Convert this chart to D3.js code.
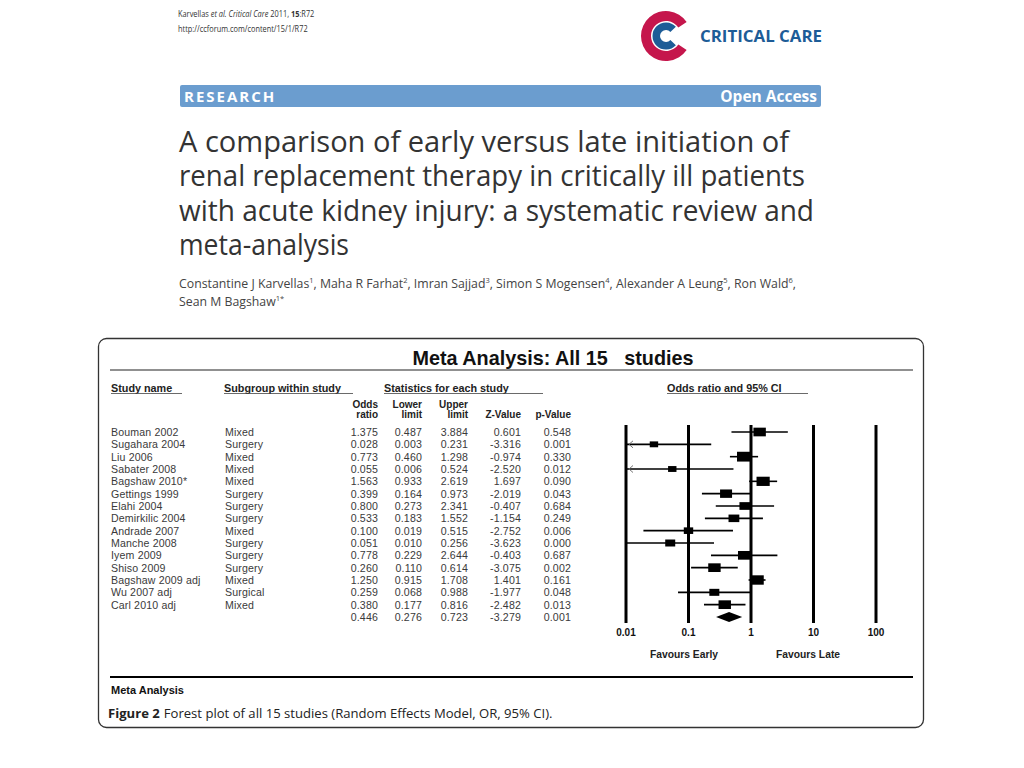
<!DOCTYPE html>
<html><head><meta charset="utf-8">
<script src="https://cdn.jsdelivr.net/npm/d3@7"></script>
<style>
html,body{margin:0;padding:0;background:#fff;}
svg{display:block;}
</style></head>
<body>
<svg id="c" width="1024" height="768"></svg>
<script>
const studies = ["Bouman 2002","Sugahara 2004","Liu 2006","Sabater 2008","Bagshaw 2010*","Gettings 1999","Elahi 2004","Demirkilic 2004","Andrade 2007","Manche 2008","Iyem 2009","Shiso 2009","Bagshaw 2009 adj","Wu 2007 adj","Carl 2010 adj"];
const subgroups = ["Mixed","Surgery","Mixed","Mixed","Mixed","Surgery","Surgery","Surgery","Mixed","Surgery","Surgery","Surgery","Mixed","Surgical","Mixed"];
const oddsRatio = [1.375,0.028,0.773,0.055,1.563,0.399,0.800,0.533,0.100,0.051,0.778,0.260,1.250,0.259,0.380];
const lowerLimit = [0.487,0.003,0.460,0.006,0.933,0.164,0.273,0.183,0.019,0.010,0.229,0.110,0.915,0.068,0.177];
const upperLimit = [3.884,0.231,1.298,0.524,2.619,0.973,2.341,1.552,0.515,0.256,2.644,0.614,1.708,0.988,0.816];
const zValue = ["0.601","-3.316","-0.974","-2.520","1.697","-2.019","-0.407","-1.154","-2.752","-3.623","-0.403","-3.075","1.401","-1.977","-2.482"];
const pValue = ["0.548","0.001","0.330","0.012","0.090","0.043","0.684","0.249","0.006","0.000","0.687","0.002","0.161","0.048","0.013"];
const weights = [6.2,4.2,7.0,4.2,6.6,6.0,5.5,5.4,4.7,5.0,6.2,6.2,6.7,5.0,6.2];
const summary = {or:0.446, lo:0.276, hi:0.723, z:"-3.279", p:"0.001"};
const tickValues = [0.01,0.1,1,10,100];
const tickLabels = ["0.01","0.1","1","10","100"];

const svg = d3.select("#c");
const TXT = "#3a3a3a";
const SANS = "'Liberation Sans', Arial, sans-serif";
const HEAD = "'Open Sans', 'Noto Sans', sans-serif";

// ---------- page header ----------
const hdr = svg.append("g").attr("font-family", HEAD).attr("fill", "#333")
  .attr("transform","translate(178,0) scale(0.84,1)");
const h1 = hdr.append("text").attr("x",0).attr("y",17).attr("font-size",8.8);
h1.append("tspan").text("Karvellas ");
h1.append("tspan").attr("font-style","italic").text("et al. Critical Care ");
h1.append("tspan").text("2011, ");
h1.append("tspan").attr("font-weight","bold").text("15");
h1.append("tspan").text(":R72");
hdr.append("text").attr("x",0).attr("y",32).attr("font-size",8.8).text("http://ccforum.com/content/15/1/R72");

// logo
const logo = svg.append("g").attr("transform","translate(666,36)");
const H = Math.PI/2;
logo.append("path").attr("d", d3.arc().innerRadius(15).outerRadius(25).startAngle(H+0.6).endAngle(2*Math.PI+H-0.6)()).attr("fill","#c5164c");
logo.append("path").attr("d", d3.arc().innerRadius(6).outerRadius(13.5).startAngle(H+0.75).endAngle(2*Math.PI+H-0.75)()).attr("fill","#1d5c97");
svg.append("text").attr("x",700).attr("y",42).attr("font-family",HEAD).attr("font-weight","bold")
  .attr("font-size",16.5).attr("fill","#1d5c97").attr("textLength",122).attr("lengthAdjust","spacingAndGlyphs").text("CRITICAL CARE");

// research bar
svg.append("rect").attr("x",180).attr("y",85).attr("width",641).attr("height",22).attr("rx",2).attr("fill","#6b9dcf");
svg.append("text").attr("x",184).attr("y",102).attr("font-family",HEAD).attr("font-weight","bold")
  .attr("font-size",15).attr("letter-spacing",2).attr("fill","#fff").text("RESEARCH");
svg.append("text").attr("x",817).attr("y",102).attr("text-anchor","end").attr("font-family",HEAD).attr("font-weight","bold")
  .attr("font-size",15.5).attr("fill","#fff").text("Open Access");

// article title
const titleLines = ["A comparison of early versus late initiation of","renal replacement therapy in critically ill patients","with acute kidney injury: a systematic review and","meta-analysis"];
const titleWidths = [610, 626, 635, 170];
svg.append("g").selectAll("text").data(titleLines).join("text")
  .attr("x",179).attr("y",(d,i)=>152+i*34.3).attr("font-family",HEAD).attr("font-size",28.3).attr("fill","#333")
  .attr("textLength",(d,i)=>titleWidths[i]).attr("lengthAdjust","spacingAndGlyphs").text(d=>d);

// authors
const au = svg.append("text").attr("x",179).attr("y",288).attr("font-family",HEAD).attr("font-size",12.3).attr("fill","#444");
const authors = [["Constantine J Karvellas","1"],["Maha R Farhat","2"],["Imran Sajjad","3"],["Simon S Mogensen","4"],["Alexander A Leung","5"],["Ron Wald","6"]];
authors.forEach((a,i)=>{
  au.append("tspan").text(a[0]);
  au.append("tspan").attr("baseline-shift","super").attr("font-size",7.5).text(a[1]);
  au.append("tspan").text(", ");
});
const au2 = svg.append("text").attr("x",179).attr("y",306).attr("font-family",HEAD).attr("font-size",12.3).attr("fill","#444");
au2.append("tspan").text("Sean M Bagshaw");
au2.append("tspan").attr("baseline-shift","super").attr("font-size",7.5).text("1*");

// ---------- figure box ----------
svg.append("rect").attr("x",98.5).attr("y",338.5).attr("width",825).attr("height",389).attr("rx",8)
  .attr("fill","none").attr("stroke","#333").attr("stroke-width",1.3);
svg.append("text").attr("x",553).attr("y",365).attr("text-anchor","middle").attr("font-family",SANS)
  .attr("font-size",19.8).attr("font-weight","bold").attr("fill","#111").attr("xml:space","preserve").text("Meta Analysis: All 15   studies");
svg.append("line").attr("x1",110).attr("x2",913).attr("y1",370).attr("y2",370).attr("stroke","#222").attr("stroke-width",1.2);

// section headers
const sh = svg.append("g").attr("font-family",SANS).attr("font-size",10.8).attr("font-weight","bold").attr("fill","#222");
const secHeads = [{t:"Study name",x:111,x2:182},{t:"Subgroup within study",x:224,x2:353},{t:"Statistics for each study",x:384,x2:543},{t:"Odds ratio and 95% CI",x:667,x2:808}];
secHeads.forEach(s=>{
  sh.append("text").attr("x",s.x).attr("y",392).text(s.t);
  sh.append("line").attr("x1",s.x).attr("x2",s.x2).attr("y1",393.5).attr("y2",393.5).attr("stroke","#444").attr("stroke-width",0.8);
});

// column headers
const colRight = {or:378, lo:422, hi:468, z:521, p:571};
const ch = svg.append("g").attr("font-family",SANS).attr("font-size",10).attr("font-weight","bold").attr("fill","#222").attr("text-anchor","end");
[["Odds","ratio",colRight.or],["Lower","limit",colRight.lo],["Upper","limit",colRight.hi]].forEach(c=>{
  ch.append("text").attr("x",c[2]).attr("y",408).text(c[0]);
  ch.append("text").attr("x",c[2]).attr("y",418).text(c[1]);
});
ch.append("text").attr("x",colRight.z).attr("y",418).text("Z-Value");
ch.append("text").attr("x",colRight.p).attr("y",418).text("p-Value");

// rows
const rowIdx = d3.range(studies.length + 1);
const y = d3.scalePoint().domain(rowIdx).range([432, 617]);
const tbl = svg.append("g").attr("font-family",SANS).attr("font-size",10.6).attr("letter-spacing",0.15).attr("fill",TXT);
const fmt = d3.format(".3f");
const rows = studies.map((s,i)=>({name:s,sub:subgroups[i],or:oddsRatio[i],lo:lowerLimit[i],hi:upperLimit[i],z:zValue[i],p:pValue[i],w:weights[i],i}));
const rg = tbl.selectAll("g.row").data(rows).join("g").attr("class","row").attr("transform",d=>`translate(0,${y(d.i)+4})`);
rg.append("text").attr("x",111).text(d=>d.name);
rg.append("text").attr("x",225).text(d=>d.sub);
rg.append("text").attr("x",colRight.or).attr("text-anchor","end").text(d=>fmt(d.or));
rg.append("text").attr("x",colRight.lo).attr("text-anchor","end").text(d=>fmt(d.lo));
rg.append("text").attr("x",colRight.hi).attr("text-anchor","end").text(d=>fmt(d.hi));
rg.append("text").attr("x",colRight.z).attr("text-anchor","end").text(d=>d.z);
rg.append("text").attr("x",colRight.p).attr("text-anchor","end").text(d=>d.p);
const sy = y(studies.length)+4;
const srow = tbl.append("g").attr("transform",`translate(0,${sy})`);
srow.append("text").attr("x",colRight.or).attr("text-anchor","end").text(fmt(summary.or));
srow.append("text").attr("x",colRight.lo).attr("text-anchor","end").text(fmt(summary.lo));
srow.append("text").attr("x",colRight.hi).attr("text-anchor","end").text(fmt(summary.hi));
srow.append("text").attr("x",colRight.z).attr("text-anchor","end").text(summary.z);
srow.append("text").attr("x",colRight.p).attr("text-anchor","end").text(summary.p);

// ---------- forest plot ----------
const x = d3.scaleLog().domain([0.01,100]).range([626,876]);
const fp = svg.append("g");
fp.selectAll("line.grid").data(tickValues).join("line").attr("class","grid")
  .attr("x1",d=>x(d)).attr("x2",d=>x(d)).attr("y1",425).attr("y2",623)
  .attr("stroke","#000").attr("stroke-width",3);
fp.selectAll("text.tick").data(tickValues).join("text").attr("class","tick")
  .attr("x",d=>x(d)).attr("y",636).attr("text-anchor","middle")
  .attr("font-family",SANS).attr("font-size",10).attr("font-weight","bold").attr("fill","#111")
  .text((d,i)=>tickLabels[i]);

const clampX = v => x(Math.max(0.01, Math.min(100, v)));
const rowsG = fp.selectAll("g.ci").data(rows).join("g").attr("class","ci").attr("transform",d=>`translate(0,${y(d.i)})`);
rowsG.append("line").attr("x1",d=>clampX(d.lo)).attr("x2",d=>clampX(d.hi)).attr("y1",0).attr("y2",0)
  .attr("stroke","#000").attr("stroke-width",1.6);
rowsG.filter(d=>d.lo<0.01).append("path")
  .attr("d",d=>`M${x(0.01)+7},-3.5 L${x(0.01)+3},0 L${x(0.01)+7},3.5`)
  .attr("fill","none").attr("stroke","#666").attr("stroke-width",0.9);
rowsG.append("rect").attr("x",d=>x(d.or)-d.w).attr("y",d=>-d.w*0.7).attr("width",d=>d.w*2).attr("height",d=>d.w*1.4).attr("fill","#000");

// summary diamond
const dy = y(studies.length);
fp.append("path").attr("d",`M${x(summary.lo)},${dy} L${x(summary.or)},${dy-5} L${x(summary.hi)},${dy} L${x(summary.or)},${dy+5} Z`).attr("fill","#000");

fp.append("text").attr("x",684).attr("y",658).attr("text-anchor","middle").attr("font-family",SANS)
  .attr("font-size",10.3).attr("font-weight","bold").attr("fill","#222").text("Favours Early");
fp.append("text").attr("x",808).attr("y",658).attr("text-anchor","middle").attr("font-family",SANS)
  .attr("font-size",10.3).attr("font-weight","bold").attr("fill","#222").text("Favours Late");

// bottom
svg.append("line").attr("x1",110).attr("x2",913).attr("y1",677).attr("y2",677).attr("stroke","#000").attr("stroke-width",2);
svg.append("text").attr("x",111).attr("y",694).attr("font-family",SANS).attr("font-size",11).attr("font-weight","bold").attr("fill","#111").text("Meta Analysis");
const capG = svg.append("g").attr("font-family",HEAD).attr("font-size",13.1).attr("fill","#222");
const capB = capG.append("text").attr("x",108).attr("y",718).attr("font-weight","bold").text("Figure 2");
const bw = capB.node().getComputedTextLength();
capG.append("text").attr("x",108+bw+4).attr("y",718).text("Forest plot of all 15 studies (Random Effects Model, OR, 95% CI).");
</script>
</body></html>
